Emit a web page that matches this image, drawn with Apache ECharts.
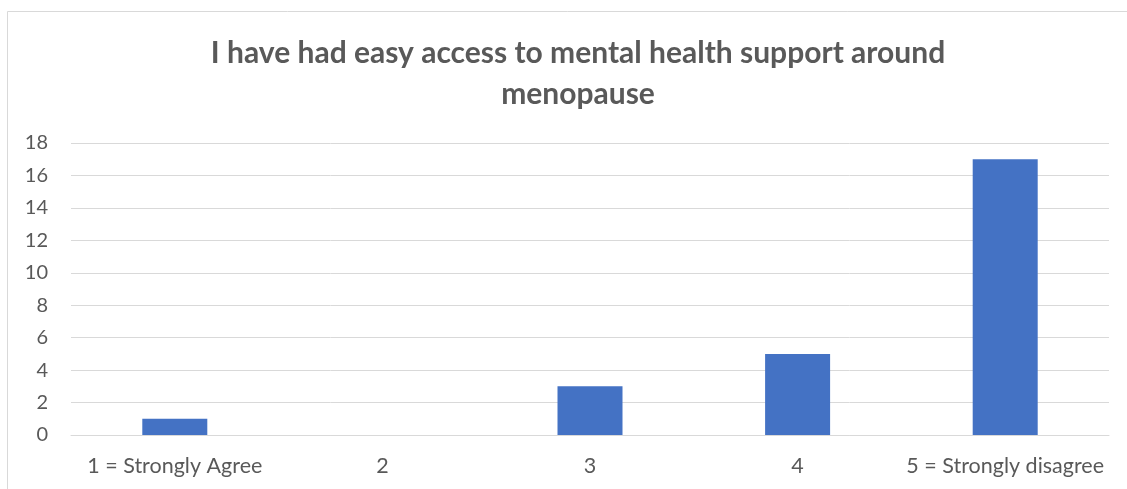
<!DOCTYPE html>
<html>
<head>
<meta charset="utf-8">
<script src="https://cdn.jsdelivr.net/npm/echarts@6/dist/echarts.min.js"></script>
<style>
  html, body { margin: 0; padding: 0; background: #ffffff; }
  #chart { width: 1127px; height: 489px; }
</style>
</head>
<body>
<div id="chart"></div>
<script>
// Survey responses: "I have had easy access to mental health support around menopause"
const titleText = 'I have had easy access to mental health support around\nmenopause';
const categories = ['1 = Strongly Agree', '2', '3', '4', '5 = Strongly disagree'];
const responseCounts = [1, 0, 3, 5, 17];
const yTicks = { min: 0, max: 18, interval: 2 };

const chart = echarts.init(document.getElementById('chart'), null, { renderer: 'canvas' });

const fontFamily = 'Lato, "Open Sans", sans-serif';
const textColor = '#595959';

chart.setOption({
  animation: false,
  backgroundColor: '#ffffff',
  graphic: [{
    type: 'rect',
    shape: { x: 7.5, y: 11.5, width: 1130, height: 490 },
    style: { fill: 'none', stroke: '#d9d9d9', lineWidth: 1 },
    silent: true
  }],
  title: {
    text: titleText,
    left: 573,
    textAlign: 'center',
    top: 28,
    textStyle: {
      fontFamily: fontFamily,
      fontWeight: 'bold',
      fontSize: 30,
      lineHeight: 41,
      color: textColor
    }
  },
  grid: { left: 71, right: 18, top: 143, bottom: 54, containLabel: false },
  xAxis: {
    type: 'category',
    data: categories,
    axisLine: { show: true, lineStyle: { color: '#d9d9d9', width: 1 } },
    axisTick: { show: false },
    axisLabel: {
      color: textColor,
      fontFamily: fontFamily,
      fontSize: 21.5,
      margin: 20,
      interval: 0
    }
  },
  yAxis: {
    type: 'value',
    min: yTicks.min,
    max: yTicks.max,
    interval: yTicks.interval,
    axisLine: { show: false },
    axisTick: { show: false },
    splitLine: { lineStyle: { color: '#d9d9d9', width: 1 } },
    axisLabel: {
      color: textColor,
      fontFamily: fontFamily,
      fontSize: 20,
      margin: 23
    }
  },
  series: [{
    type: 'bar',
    data: responseCounts,
    barWidth: 65,
    itemStyle: { color: '#4472c4' }
  }]
});
</script>
</body>
</html>
